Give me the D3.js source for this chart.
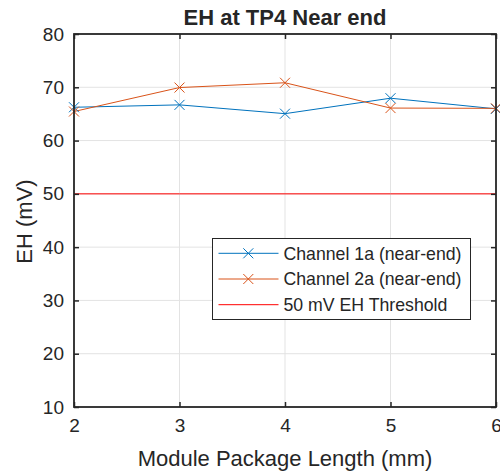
<!DOCTYPE html>
<html><head><meta charset="utf-8">
<script src="https://cdn.jsdelivr.net/npm/d3@7"></script>
<style>body{margin:0;background:#fff}svg{display:block}text{font-family:"Liberation Sans",Arial,Helvetica,sans-serif;fill:#262626}</style>
</head><body>
<script>
const xValues = [2, 3, 4, 5, 6];
const channel1a = [66.25, 66.7, 65.05, 67.95, 65.95];
const channel2a = [65.45, 69.95, 70.85, 66.1, 66.05];
const threshold = [50, 50, 50, 50, 50];
const xTicks = [2, 3, 4, 5, 6];
const yTicks = [10, 20, 30, 40, 50, 60, 70, 80];
const seriesNames = ["Channel 1a (near-end)", "Channel 2a (near-end)", "50 mV EH Threshold"];
const seriesColors = ["#0072BD", "#D95319", "#FF0000"];

const W = 500, H = 474;
const m = {left: 74, right: 4, top: 34, bottom: 67};
const svg = d3.select("body").append("svg").attr("width", W).attr("height", H);
const x = d3.scaleLinear().domain([2, 6]).range([m.left, W - m.right]);
const y = d3.scaleLinear().domain([10, 80]).range([H - m.bottom, m.top]);

// grid
const g = svg.append("g");
g.selectAll(".gx").data(xTicks).enter().append("line")
  .attr("x1", d => x(d)).attr("x2", d => x(d)).attr("y1", y(10)).attr("y2", y(80))
  .attr("stroke", "#e3e3e3").attr("stroke-width", 1);
g.selectAll(".gy").data(yTicks).enter().append("line")
  .attr("y1", d => y(d)).attr("y2", d => y(d)).attr("x1", x(2)).attr("x2", x(6))
  .attr("stroke", "#e3e3e3").attr("stroke-width", 1);

// axes
const tickLen = 5;
const axB = d3.axisBottom(x).tickValues(xTicks).tickSize(-tickLen).tickPadding(12).tickFormat(d3.format("d"));
const axT = d3.axisTop(x).tickValues(xTicks).tickSize(-tickLen).tickFormat("");
const axL = d3.axisLeft(y).tickValues(yTicks).tickSize(-tickLen).tickPadding(10).tickFormat(d3.format("d"));
const axR = d3.axisRight(y).tickValues(yTicks).tickSize(-tickLen).tickFormat("");

function styleAxis(sel) {
  sel.select(".domain").attr("stroke", "none");
  sel.selectAll(".tick line").attr("stroke", "#262626").attr("stroke-width", 1.5);
  sel.selectAll("text").attr("font-size", 19).attr("fill", "#262626")
    .style("font-family", '"Liberation Sans",Arial,Helvetica,sans-serif');
}

// data lines
const line = d3.line().x((d, i) => x(xValues[i])).y(d => y(d));
const series = [channel1a, channel2a, threshold];
series.forEach((s, k) => {
  svg.append("path").datum(s).attr("d", line).attr("fill", "none")
    .attr("stroke", seriesColors[k]).attr("stroke-width", 1);
});
function cross(sel, cx, cy, r, color) {
  sel.append("path").attr("d", `M${cx - r},${cy - r}L${cx + r},${cy + r}M${cx - r},${cy + r}L${cx + r},${cy - r}`)
    .attr("stroke", color).attr("stroke-width", 1).attr("fill", "none");
}
[channel1a, channel2a].forEach((s, k) => {
  s.forEach((v, i) => cross(svg, x(xValues[i]), y(v), 5, seriesColors[k]));
});

svg.append("g").attr("transform", `translate(0,${y(10)})`).call(axB).call(styleAxis);
svg.append("g").attr("transform", `translate(0,${y(80)})`).call(axT).call(styleAxis);
svg.append("g").attr("transform", `translate(${x(2)},0)`).call(axL).call(styleAxis);
svg.append("g").attr("transform", `translate(${x(6)},0)`).call(axR).call(styleAxis);

// box
svg.append("rect").attr("x", x(2)).attr("y", y(80)).attr("width", x(6) - x(2)).attr("height", y(10) - y(80))
  .attr("fill", "none").attr("stroke", "#262626").attr("stroke-width", 1.8);

// title & labels
svg.append("text").attr("x", (x(2) + x(6)) / 2).attr("y", 24.5).attr("text-anchor", "middle")
  .attr("font-size", 22).attr("font-weight", "bold").attr("fill", "#000").text("EH at TP4 Near end");
svg.append("text").attr("x", (x(2) + x(6)) / 2).attr("y", 466).attr("text-anchor", "middle")
  .attr("font-size", 22).text("Module Package Length (mm)");
svg.append("text").attr("transform", `translate(31.5,${(y(10) + y(80)) / 2 + 1}) rotate(-90)`).attr("text-anchor", "middle")
  .attr("font-size", 22).text("EH (mV)");

// legend
const lg = svg.append("g");
lg.append("rect").attr("x", 212.5).attr("y", 238.5).attr("width", 258).attr("height", 81)
  .attr("fill", "#fff").attr("stroke", "#262626").attr("stroke-width", 1);
seriesNames.forEach((n, k) => {
  const cy = 253.3 + k * 25.7;
  lg.append("line").attr("x1", 218.5).attr("x2", 278.5).attr("y1", cy).attr("y2", cy)
    .attr("stroke", seriesColors[k]).attr("stroke-width", 1);
  if (k < 2) cross(lg, 248.3, cy, 5, seriesColors[k]);
  lg.append("text").attr("x", 283.5).attr("y", cy + 6.3).attr("font-size", 17.7).text(n);
});
</script>
</body></html>
